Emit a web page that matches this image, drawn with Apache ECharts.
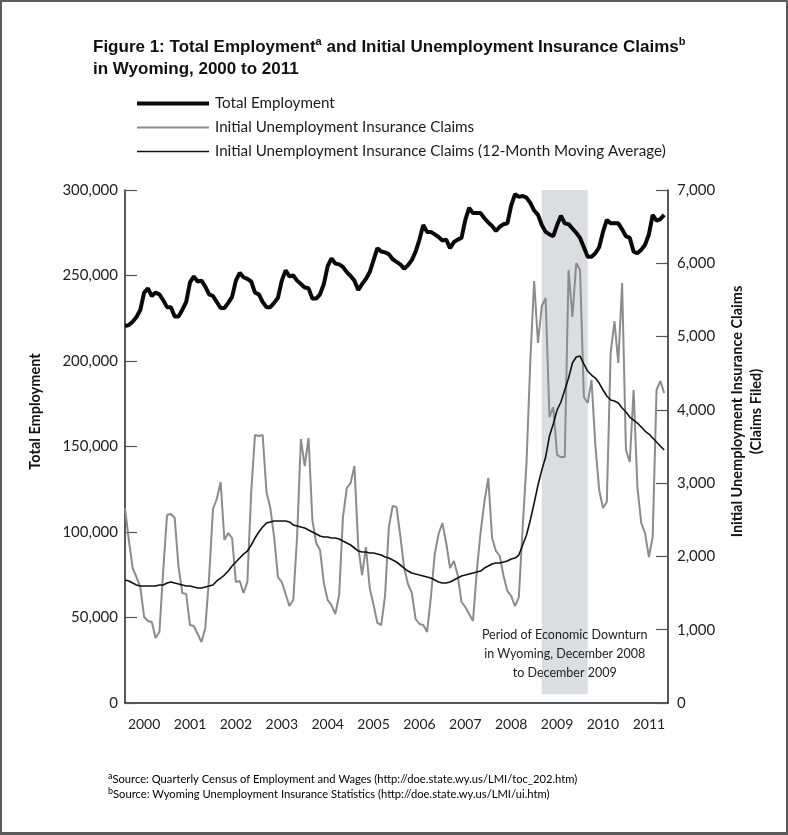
<!DOCTYPE html>
<html><head><meta charset="utf-8">
<script src="https://cdn.jsdelivr.net/npm/echarts@6/dist/echarts.min.js"></script>
<style>
html,body{margin:0;padding:0;background:#fff;}
#wrap{position:relative;width:788px;height:835px;}
#chart{position:absolute;left:0;top:0;width:788px;height:835px;}
#frame{position:absolute;left:0;top:0;width:788px;height:835px;box-sizing:border-box;border:2px solid #5a5a5a;border-bottom-width:3px;pointer-events:none;}
</style></head><body>
<div id="wrap"><div id="chart"></div><div id="frame"></div></div>
<script>
// Month categories, Jan 2000 .. Nov 2011
const months = [];
for (let y = 2000; y <= 2011; y++) {
  for (let m = 1; m <= 12; m++) {
    if (y === 2011 && m > 11) break;
    months.push(y + '-' + (m < 10 ? '0' + m : m));
  }
}
const yearLabels = ['2000','2001','2002','2003','2004','2005','2006','2007','2008','2009','2010','2011'];

// Total employment (left axis), monthly
const employment = [
220500,221000,223000,225700,229800,240000,242500,238000,240000,239000,235500,231500,
231500,226000,226000,230000,234500,246000,249500,246500,247000,243500,239000,238000,
234500,231000,231000,234000,237500,247000,251500,249000,248000,246500,240000,239000,
234500,231500,231500,234000,237000,247000,253000,249500,250000,247000,245000,243000,
242500,236500,236500,239000,245000,255500,260000,257000,256500,255000,252000,249700,
247000,241500,245000,248000,252000,259000,266000,264000,263500,262500,259500,258000,
256500,254000,256000,259000,264000,271000,279500,275500,275500,274000,272500,270500,
271000,266000,269500,271000,272000,282500,289500,286500,286500,286500,283500,281000,
279000,276000,278500,280000,280500,291000,297500,296000,296500,295500,292500,288000,
285500,279500,275500,274000,273000,279500,285000,280500,280000,277500,275000,272000,
266500,261000,261000,263000,266500,275500,282500,280500,280500,280500,277000,273000,
272000,264000,263000,265000,268000,274000,285500,282000,283000,285500
];

// Initial unemployment insurance claims (right axis), monthly
const claims = [
2661,2224,1842,1719,1583,1173,1119,1105,887,969,1815,2565,
2579,2524,1856,1501,1487,1064,1051,941,832,1023,1719,2647,
2783,3015,2224,2319,2251,1651,1665,1501,1651,2879,3657,3643,
3657,2879,2661,2265,1719,1651,1487,1323,1405,2265,3602,3234,
3616,2497,2183,2088,1637,1405,1337,1214,1474,2538,2933,3002,
3234,2128,1746,2128,1569,1337,1092,1064,1460,2401,2688,2674,
2279,1842,1624,1501,1146,1078,1064,969,1446,2033,2306,2456,
2183,1842,1937,1746,1378,1310,1214,1119,1801,2333,2750,3070,
2251,2074,2006,1733,1528,1460,1323,1446,2401,3275,4680,5758,
4912,5417,5526,3902,4039,3384,3356,3356,5908,5267,6003,5908,
4175,4093,4407,3520,2906,2661,2742,4775,5212,4639,5730,3452,
3288,4271,2947,2456,2319,1992,2265,4271,4393,4230
];

// 12-month moving average of claims (right axis)
const claimsMA = [
1678,1665,1637,1610,1596,1596,1596,1596,1596,1610,1610,1637,
1651,1637,1624,1610,1596,1596,1583,1569,1569,1583,1596,1610,
1665,1705,1746,1801,1869,1924,1978,2033,2074,2156,2251,2333,
2401,2456,2470,2483,2483,2483,2483,2470,2429,2415,2401,2388,
2360,2333,2306,2279,2265,2265,2251,2251,2238,2210,2183,2156,
2115,2074,2060,2060,2047,2047,2033,2019,1992,1978,1951,1924,
1883,1842,1801,1774,1760,1746,1733,1719,1705,1678,1651,1637,
1637,1651,1678,1705,1733,1746,1760,1774,1787,1801,1842,1869,
1897,1910,1910,1924,1937,1965,1978,2019,2156,2292,2497,2729,
2974,3179,3356,3643,3807,3998,4107,4271,4434,4639,4721,4734,
4625,4530,4475,4434,4366,4271,4189,4134,4120,4093,4025,3970,
3902,3861,3820,3766,3711,3670,3616,3561,3507,3452
];

const empTicks = [0, 300000, 50000];   // min, max, step
const claimTicks = [0, 7000, 1000];
const downturn = ['2009-02', '2010-02'];       // where the shaded band sits on the axis
const downturnSpan = [120, 7180];              // band height in claims units
const downturnText = 'Period of Economic Downturn\nin Wyoming, December 2008\nto December 2009';

const F = 'Lato, "Open Sans", sans-serif';
const chart = echarts.init(document.getElementById('chart'), null, {renderer: 'canvas'});
chart.setOption({
  backgroundColor: '#fff',
  animation: false,
  title: {
    left: 88, top: 31,
    text: '{t|Figure 1: Total Employment}{s|a}{t| and Initial Unemployment Insurance Claims}{s|b}\n{t|in Wyoming, 2000 to 2011}',
    textStyle: {
      rich: {
        t: {fontFamily: '"Liberation Sans", Arial, sans-serif', fontWeight: 'bold', fontSize: 17, color: '#111', lineHeight: 22},
        s: {fontFamily: '"Liberation Sans", Arial, sans-serif', fontSize: 11, color: '#111', verticalAlign: 'top', lineHeight: 15}
      }
    }
  },
  legend: {
    orient: 'vertical', left: 135, top: 96, padding: 0,
    itemWidth: 72, itemHeight: 14, itemGap: 9,
    itemStyle: {opacity: 0},
    data: [
      {name: 'Total Employment', lineStyle: {width: 4, color: '#0a0a0a'}},
      {name: 'Initial Unemployment Insurance Claims', lineStyle: {width: 2, color: '#8c8c8c'}},
      {name: 'Initial Unemployment Insurance Claims (12-Month Moving Average)', lineStyle: {width: 1.6, color: '#111'}}
    ],
    textStyle: {fontFamily: F, fontSize: 15.2, lineHeight: 14, color: '#1a1a1a', padding: [0, 0, 0, 1]}
  },
  grid: {left: 125, right: 120, top: 190, bottom: 132},
  xAxis: {
    type: 'category', data: months, boundaryGap: false,
    axisLine: {lineStyle: {color: '#222', width: 1.5}},
    axisTick: {show: false},
    axisLabel: {
      interval: function (i) { return i % 12 === 5; },
      formatter: function (v, i) { return yearLabels[Math.floor(i / 12)]; },
      fontFamily: F, fontSize: 14, color: '#222', margin: 14
    },
    splitLine: {show: false}
  },
  yAxis: [{
    type: 'value', min: empTicks[0], max: empTicks[1], interval: empTicks[2],
    name: 'Total Employment', nameLocation: 'middle', nameGap: 82, nameRotate: 90,
    nameTextStyle: {fontFamily: F, fontWeight: 'bold', fontSize: 14.5, color: '#111', padding: [0, 0, 0, 70]},
    axisLine: {show: true, lineStyle: {color: '#222', width: 1.5}},
    axisTick: {show: true, inside: true, length: 12, lineStyle: {color: '#555', width: 1.2}},
    axisLabel: {fontFamily: F, fontSize: 15, color: '#222', margin: 7,
      formatter: function (v) { return v.toLocaleString('en-US'); }},
    splitLine: {show: false}
  }, {
    type: 'value', min: claimTicks[0], max: claimTicks[1], interval: claimTicks[2], position: 'right',
    name: 'Initial Unemployment Insurance Claims\n(Claims Filed)', nameLocation: 'middle', nameGap: 60, nameRotate: 90,
    nameTextStyle: {fontFamily: F, fontWeight: 'bold', fontSize: 14.5, color: '#111', lineHeight: 19, padding: [0, 0, 0, 70]},
    axisLine: {show: true, lineStyle: {color: '#222', width: 1.5}},
    axisTick: {show: true, inside: true, length: 12, lineStyle: {color: '#555', width: 1.2}},
    axisLabel: {fontFamily: F, fontSize: 15, color: '#222', margin: 9,
      formatter: function (v) { return v.toLocaleString('en-US'); }},
    splitLine: {show: false}
  }],
  series: [{
    name: 'Initial Unemployment Insurance Claims', type: 'line', yAxisIndex: 1,
    data: claims, symbol: 'none', clip: false,
    lineStyle: {color: '#8c8c8c', width: 2}, itemStyle: {color: '#8c8c8c'},
    markArea: {
      silent: true,
      itemStyle: {color: '#dcdde0'},
      label: {show: true, position: 'insideBottom', distance: 12, formatter: downturnText,
        fontFamily: F, fontSize: 12.5, lineHeight: 19, color: '#222', overflow: 'none'},
      data: [[{xAxis: downturn[0], yAxis: downturnSpan[0]}, {xAxis: downturn[1], yAxis: downturnSpan[1]}]]
    }
  }, {
    name: 'Initial Unemployment Insurance Claims (12-Month Moving Average)', type: 'line', yAxisIndex: 1,
    data: claimsMA, symbol: 'none',
    lineStyle: {color: '#111', width: 1.6}, itemStyle: {color: '#111'}
  }, {
    name: 'Total Employment', type: 'line', yAxisIndex: 0,
    data: employment, symbol: 'none',
    lineStyle: {color: '#0a0a0a', width: 4}, itemStyle: {color: '#0a0a0a'}
  }],
  graphic: [{
    type: 'text', left: 108, top: 772,
    style: {
      text: '{s|a}{t|Source: Quarterly Census of Employment and Wages (http://doe.state.wy.us/LMI/toc_202.htm)}',
      rich: {t: {fontFamily: F, fontSize: 11.2, color: '#222', lineHeight: 15}, s: {fontFamily: F, fontSize: 9, color: '#222', verticalAlign: 'top', lineHeight: 10}}
    }
  }, {
    type: 'text', left: 108, top: 787,
    style: {
      text: '{s|b}{t|Source: Wyoming Unemployment Insurance Statistics (http://doe.state.wy.us/LMI/ui.htm)}',
      rich: {t: {fontFamily: F, fontSize: 11.2, color: '#222', lineHeight: 15}, s: {fontFamily: F, fontSize: 9, color: '#222', verticalAlign: 'top', lineHeight: 10}}
    }
  }]
});
</script>
</body></html>
